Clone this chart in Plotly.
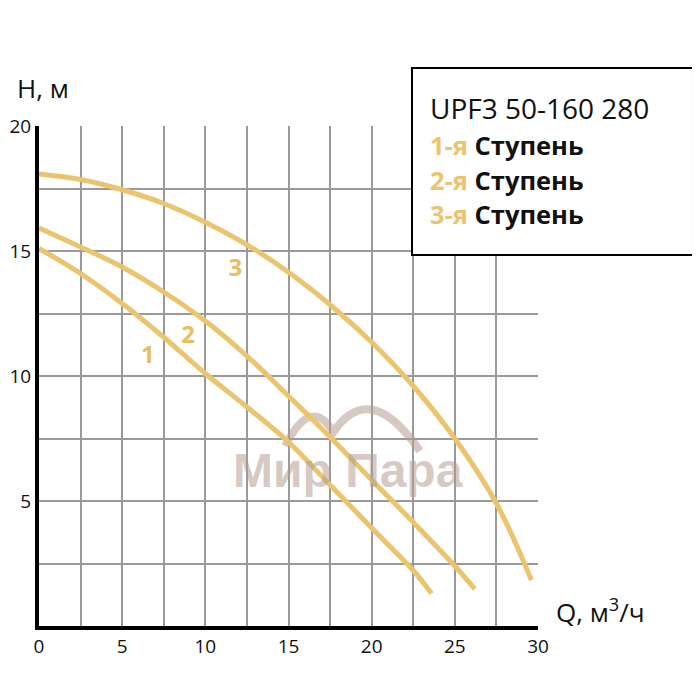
import plotly.graph_objects as go

# Data
q1 = [0, 2.5, 5, 7.5, 10, 12.5, 15, 17.5, 20, 22.5, 23.6]
h1 = [15.1, 14.1, 12.9, 11.55, 10.1, 8.76, 7.36, 5.64, 3.92, 2.22, 1.3]

q2 = [0, 2.5, 5, 7.5, 10, 12.5, 15, 17.5, 20, 22.5, 25, 26.2]
h2 = [15.92, 15.16, 14.36, 13.36, 12.2, 10.8, 9.2, 7.56, 5.84, 4.15, 2.4, 1.48]

q3 = [0, 2.5, 5, 7.5, 10, 12.5, 15, 17.5, 20, 22.5, 25, 27.5, 29.6]
h3 = [18.08, 17.86, 17.45, 16.9, 16.15, 15.25, 14.15, 12.85, 11.35, 9.6, 7.5, 4.9, 1.84]

curve_names = ["1", "2", "3"]
label_q = [6.55, 8.96, 11.8]
label_h = [10.75, 11.56, 14.24]

x_ticks = [0, 5, 10, 15, 20, 25, 30]
y_ticks = [5, 10, 15, 20]

title_text = "UPF3 50-160 280"
stage_prefix = ["1-я", "2-я", "3-я"]
stage_word = "Ступень"
watermark_text = "Мир Пара"

GOLD = "#EBC46E"
FONT = "Open Sans"
WM = "rgba(180,155,145,0.55)"

fig = go.Figure()

for q, h, name in zip([q1, q2, q3], [h1, h2, h3], curve_names):
    fig.add_trace(go.Scatter(x=q, y=h, mode="lines", name=name,
                             line=dict(color=GOLD, width=5, shape="spline", smoothing=1.0),
                             hoverinfo="skip", showlegend=False))

# Curve number labels
fig.add_trace(go.Scatter(x=label_q, y=label_h, mode="text",
                         text=[f"<b>{n}</b>" for n in curve_names],
                         textfont=dict(family=FONT, size=24, color="#E8BE62"),
                         showlegend=False, hoverinfo="skip"))

# Watermark
fig.add_annotation(x=0.62, y=0.312, xref="paper", yref="paper", yanchor="middle",
                   text=f"<b>{watermark_text}</b>", showarrow=False,
                   font=dict(family="Liberation Sans", size=48, color=WM))
fig.add_shape(type="path", xref="x", yref="y", layer="between",
              path="M 14.8 7.2 Q 16.35 9.24 17.7 7.76 Q 19.9 9.9 22.9 7.0",
              line=dict(color=WM, width=8))

# Legend box
fig.add_shape(type="rect", xref="paper", yref="paper", x0=0.7475, x1=1.3106,
              y0=0.742, y1=1.116, line=dict(color="black", width=2),
              fillcolor="white", layer="above")
fig.add_annotation(x=0.7796, y=1.036, xref="paper", yref="paper", xanchor="left",
                   yanchor="middle", text=title_text, showarrow=False,
                   font=dict(family=FONT, size=28, color="#111"))
for pre, yy in zip(stage_prefix, [0.962, 0.892, 0.824]):
    fig.add_annotation(x=0.7796, y=yy, xref="paper", yref="paper", xanchor="left",
                       yanchor="middle", height=32,
                       text=f"<b><span style='color:{GOLD}'>{pre}</span> {stage_word}</b>",
                       showarrow=False, font=dict(family=FONT, size=25.5, color="#111"))

# Axis titles
fig.add_annotation(x=-0.048, y=1.076, xref="paper", yref="paper", xanchor="left",
                   yanchor="middle", text="H, м", showarrow=False,
                   font=dict(family=FONT, size=26, color="#111"))
fig.add_annotation(x=1.032, y=0.03, xref="paper", yref="paper", xanchor="left",
                   yanchor="middle", text="Q, м<sup>3</sup>/ч", showarrow=False,
                   font=dict(family=FONT, size=26, color="#111"))

axis_common = dict(showgrid=True, gridcolor="#9a9a9a", gridwidth=1.5,
                   minor=dict(dtick=2.5, showgrid=True, gridcolor="#9a9a9a", gridwidth=1.5),
                   showline=True, linecolor="black", linewidth=4, zeroline=False,
                   automargin=False,
                   ticks="", tickfont=dict(family=FONT, size=19, color="#111"))
fig.update_xaxes(range=[0, 30], tickvals=x_ticks, ticktext=[str(v) for v in x_ticks],
                 **axis_common)
fig.update_yaxes(range=[0, 20], tickvals=y_ticks, ticktext=[str(v) for v in y_ticks],
                 **axis_common)

fig.update_layout(width=700, height=700, plot_bgcolor="white", paper_bgcolor="white",
                  margin=dict(l=31, r=170, t=118, b=82), showlegend=False)

fig.write_html("out.html")
